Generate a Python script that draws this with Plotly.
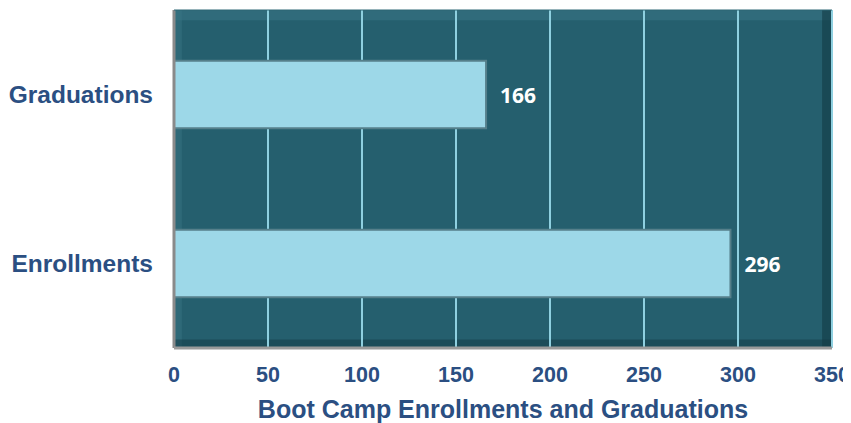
import plotly.graph_objects as go

categories = ["Enrollments", "Graduations"]
values = [296, 166]
tick_vals = [0, 50, 100, 150, 200, 250, 300, 350]

BLUE = "#2b4f82"

fig = go.Figure(go.Bar(
    x=values, y=categories, orientation="h",
    marker=dict(color="#9dd8e8", line=dict(color="#557f8a", width=2)),
    width=0.4,
    text=[str(v) for v in values], textposition="outside",
    textfont=dict(color="white", size=21, family="Open Sans", weight="bold"),
    texttemplate="  %{text}", cliponaxis=False,
))

# frame bevel (decoration of the plot area)
frame = [
    dict(x0=0, x1=1, y0=0.97, y1=1, fillcolor="#3b7888", opacity=0.5),
    dict(x0=0, x1=0.012, y0=0, y1=1, fillcolor="#3b7888", opacity=0.4),
    dict(x0=0.985, x1=1, y0=0, y1=1, fillcolor="#133a44", opacity=0.6),
    dict(x0=0, x1=1, y0=0, y1=0.025, fillcolor="#133a44", opacity=0.5),
]
shapes = [dict(type="rect", xref="paper", yref="paper", layer="below",
               line=dict(width=0), **f) for f in frame]
shapes += [
    dict(type="line", xref="paper", yref="paper", x0=1, x1=1, y0=0, y1=1,
         line=dict(color="#8fd0e0", width=2)),
    dict(type="line", xref="paper", yref="paper", x0=0, x1=0, y0=0, y1=1,
         line=dict(color="#8a8a8a", width=3)),
    dict(type="line", xref="paper", yref="paper", x0=0, x1=1, y0=0, y1=0,
         line=dict(color="#9a9a9a", width=3)),
    dict(type="line", xref="paper", yref="paper", x0=0, x1=1, y0=1, y1=1,
         line=dict(color="#2d6675", width=1)),
]

fig.update_layout(
    width=843, height=415,
    margin=dict(l=166, r=19, t=2, b=75),
    paper_bgcolor="white", plot_bgcolor="#255f6e",
    showlegend=False, shapes=shapes,
    xaxis=dict(range=[0, 350], tickvals=tick_vals, showgrid=True, automargin=False,
               gridcolor="#8fd0e0", gridwidth=2, zeroline=False,
               tickfont=dict(family="Liberation Sans", size=21.5, color=BLUE, weight="bold"),
               ticks="", ticklabelstandoff=11, ticklabeloverflow="allow",
               showline=False,
               title=dict(text="Boot Camp Enrollments and Graduations",
                          font=dict(family="Liberation Sans", size=25, color=BLUE, weight="bold"),
                          standoff=14)),
    yaxis=dict(tickfont=dict(family="Liberation Sans", size=24.5, color=BLUE, weight="bold"),
               ticklabelstandoff=20, showgrid=False, automargin=False,
               ticklabeloverflow="allow", showline=False),
    font=dict(family="Liberation Sans"),
)

fig.write_html("out.html")
